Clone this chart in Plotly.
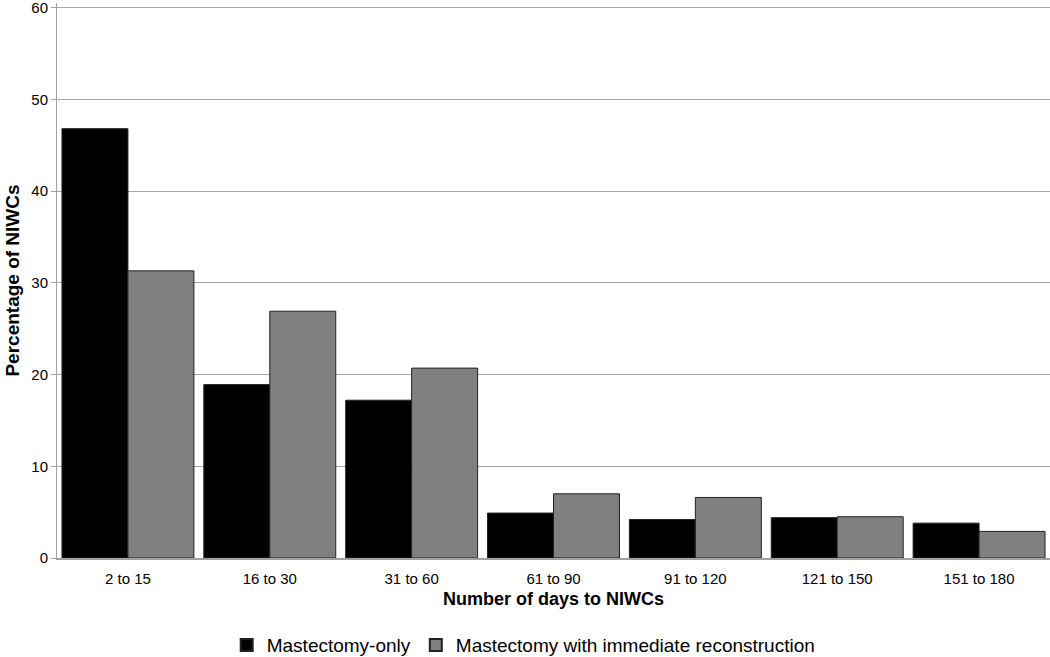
import plotly.graph_objects as go

categories = ["2 to 15", "16 to 30", "31 to 60", "61 to 90", "91 to 120", "121 to 150", "151 to 180"]
mastectomy_only = [46.8, 18.9, 17.2, 4.9, 4.2, 4.4, 3.8]
immediate_reconstruction = [31.3, 26.9, 20.7, 7.0, 6.6, 4.5, 2.9]
series_names = ["Mastectomy-only", "Mastectomy with immediate reconstruction"]
y_ticks = [0, 10, 20, 30, 40, 50, 60]

FONT = "Liberation Sans, Arial, sans-serif"

fig = go.Figure()
fig.add_trace(go.Bar(x=categories, y=mastectomy_only, name=series_names[0],
                     marker=dict(color="#000000", line=dict(color="#222222", width=1))))
fig.add_trace(go.Bar(x=categories, y=immediate_reconstruction, name=series_names[1],
                     marker=dict(color="#808080", line=dict(color="#222222", width=1))))

fig.update_layout(
    width=1050, height=657,
    margin=dict(l=57, r=0, t=3, b=99, autoexpand=False),
    paper_bgcolor="white", plot_bgcolor="white",
    barmode="group", bargap=0.07, bargroupgap=0,
    font=dict(family=FONT, size=15, color="#000000"),
    legend=dict(orientation="h", x=0.47, xanchor="center",
                yref="container", y=0.018, yanchor="middle",
                font=dict(size=19), itemsizing="constant", traceorder="normal"),
    xaxis=dict(showgrid=False, showline=True, linecolor="#a0a0a0", linewidth=1.5,
               ticks="outside", ticklen=6, tickcolor="rgba(0,0,0,0)",
               tickfont=dict(size=15), automargin=False,
               title=dict(text="<b>Number of days to NIWCs</b>", font=dict(size=18), standoff=7)),
    yaxis=dict(range=[0, 60.5], tickvals=y_ticks, showgrid=True, gridcolor="#a6a6a6", gridwidth=1.2,
               showline=True, linecolor="#a0a0a0", linewidth=1, automargin=False,
               ticks="outside", ticklen=5, tickcolor="#a0a0a0", ticklabeloverflow="allow",
               tickfont=dict(size=15), zeroline=False,
               title=dict(text="<b>Percentage of NIWCs</b>", font=dict(size=19), standoff=6)),
)

fig.write_html("out.html", config={"displayModeBar": False},
               post_script="document.body.style.margin='0';document.body.style.overflow='hidden';")
